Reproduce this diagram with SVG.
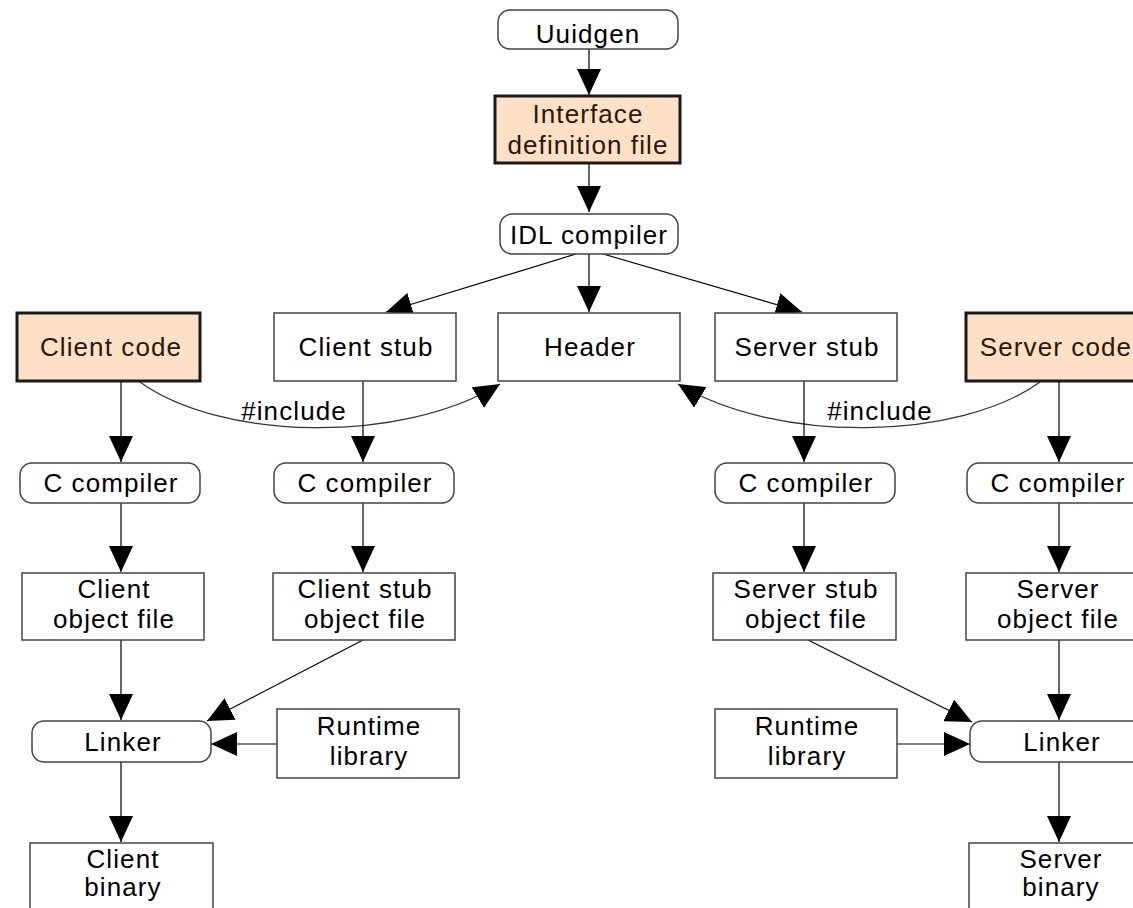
<svg xmlns="http://www.w3.org/2000/svg" width="1133" height="908" viewBox="0 0 1133 908">
  <style>
    text { font-family: "Liberation Sans", Arial, sans-serif; font-size: 26px; letter-spacing: 1.1px; fill: #000; text-anchor: middle; }
    .box { fill: #fff; stroke: #444; stroke-width: 1.5; }
    .src { fill: #fde0c6; stroke: #1a1a1a; stroke-width: 3; }
    .srctxt { fill: #2a1808; }
    .edge { fill: none; stroke: #000; stroke-width: 1.2; marker-end: url(#arrow); }
    .curve { fill: none; stroke: #333; stroke-width: 1.2; marker-end: url(#arrow); }
  </style>
  <defs>
    <marker id="arrow" markerUnits="userSpaceOnUse" markerWidth="26" markerHeight="24" refX="26" refY="12" orient="auto">
      <path d="M0,0 L26,12 L0,24 z" fill="#000"/>
    </marker>
  </defs>

  <rect width="1133" height="908" fill="#fff"/>

  <!-- connectors -->
  <g id="connectors">
    <line class="edge" x1="589" y1="49" x2="589" y2="95"/>
    <line class="edge" x1="589" y1="164" x2="589" y2="212"/>
    <line class="edge" x1="576" y1="254" x2="386" y2="312"/>
    <line class="edge" x1="589" y1="254" x2="589" y2="312"/>
    <line class="edge" x1="603" y1="254" x2="802" y2="312"/>

    <path class="curve" d="M140,382 C220,440 400,445 500,384"/>
    <path class="curve" d="M1040,382 C960,440 780,445 678,384"/>

    <line class="edge" x1="121" y1="382" x2="121" y2="462"/>
    <line class="edge" x1="363" y1="381" x2="363" y2="462"/>
    <line class="edge" x1="804" y1="381" x2="804" y2="462"/>
    <line class="edge" x1="1059" y1="382" x2="1059" y2="462"/>

    <line class="edge" x1="121" y1="503" x2="121" y2="572"/>
    <line class="edge" x1="363" y1="503" x2="363" y2="572"/>
    <line class="edge" x1="804" y1="503" x2="804" y2="572"/>
    <line class="edge" x1="1059" y1="503" x2="1059" y2="572"/>

    <line class="edge" x1="121" y1="640" x2="121" y2="720"/>
    <line class="edge" x1="363" y1="640" x2="207" y2="721"/>
    <line class="edge" x1="277" y1="744" x2="211" y2="744"/>
    <line class="edge" x1="121" y1="762" x2="121" y2="842"/>

    <line class="edge" x1="808" y1="640" x2="972" y2="722"/>
    <line class="edge" x1="897" y1="744" x2="970" y2="744"/>
    <line class="edge" x1="1059" y1="640" x2="1059" y2="720"/>
    <line class="edge" x1="1059" y1="762" x2="1059" y2="842"/>

    <text x="294" y="420">#include</text>
    <text x="880" y="420">#include</text>
  </g>

  <!-- nodes -->
  <g id="uuidgen"><rect class="box" x="498" y="10" width="180" height="39" rx="12"/><text x="588" y="43">Uuidgen</text></g>
  <g id="idl-file"><rect class="src" x="495" y="96" width="185" height="67"/><text class="srctxt" x="588" y="123">Interface</text><text class="srctxt" x="588" y="154">definition file</text></g>
  <g id="idl-compiler"><rect class="box" x="500" y="214" width="178" height="40" rx="12"/><text x="589" y="244">IDL compiler</text></g>

  <g id="client-code"><rect class="src" x="17" y="313" width="183" height="68"/><text class="srctxt" x="111" y="356">Client code</text></g>
  <g id="client-stub"><rect class="box" x="274" y="313" width="182" height="68"/><text x="366" y="356">Client stub</text></g>
  <g id="header"><rect class="box" x="498" y="313" width="182" height="68"/><text x="590" y="356">Header</text></g>
  <g id="server-stub"><rect class="box" x="715" y="313" width="182" height="68"/><text x="807" y="356">Server stub</text></g>
  <g id="server-code"><rect class="src" x="966" y="313" width="183" height="68"/><text class="srctxt" x="1056" y="356">Server code</text></g>

  <g id="c-compiler-client"><rect class="box" x="20" y="463" width="180" height="40" rx="12"/><text x="111" y="492">C compiler</text></g>
  <g id="c-compiler-cstub"><rect class="box" x="274" y="463" width="180" height="40" rx="12"/><text x="365" y="492">C compiler</text></g>
  <g id="c-compiler-sstub"><rect class="box" x="715" y="463" width="180" height="40" rx="12"/><text x="806" y="492">C compiler</text></g>
  <g id="c-compiler-server"><rect class="box" x="967" y="463" width="180" height="40" rx="12"/><text x="1058" y="492">C compiler</text></g>

  <g id="client-obj"><rect class="box" x="22" y="573" width="182" height="67"/><text x="114" y="598">Client</text><text x="114" y="628">object file</text></g>
  <g id="client-stub-obj"><rect class="box" x="273" y="573" width="182" height="67"/><text x="365" y="598">Client stub</text><text x="365" y="628">object file</text></g>
  <g id="server-stub-obj"><rect class="box" x="713" y="573" width="183" height="67"/><text x="806" y="598">Server stub</text><text x="806" y="628">object file</text></g>
  <g id="server-obj"><rect class="box" x="966" y="573" width="183" height="67"/><text x="1058" y="598">Server</text><text x="1058" y="628">object file</text></g>

  <g id="linker-client"><rect class="box" x="32" y="721" width="179" height="41" rx="12"/><text x="123" y="751">Linker</text></g>
  <g id="runtime-client"><rect class="box" x="277" y="709" width="182" height="69"/><text x="369" y="735">Runtime</text><text x="369" y="765">library</text></g>
  <g id="runtime-server"><rect class="box" x="715" y="709" width="182" height="69"/><text x="807" y="735">Runtime</text><text x="807" y="765">library</text></g>
  <g id="linker-server"><rect class="box" x="970" y="721" width="180" height="41" rx="12"/><text x="1062" y="751">Linker</text></g>

  <g id="client-binary"><rect class="box" x="30" y="843" width="183" height="80"/><text x="123" y="868">Client</text><text x="123" y="896">binary</text></g>
  <g id="server-binary"><rect class="box" x="969" y="843" width="183" height="80"/><text x="1061" y="868">Server</text><text x="1061" y="896">binary</text></g>
</svg>
